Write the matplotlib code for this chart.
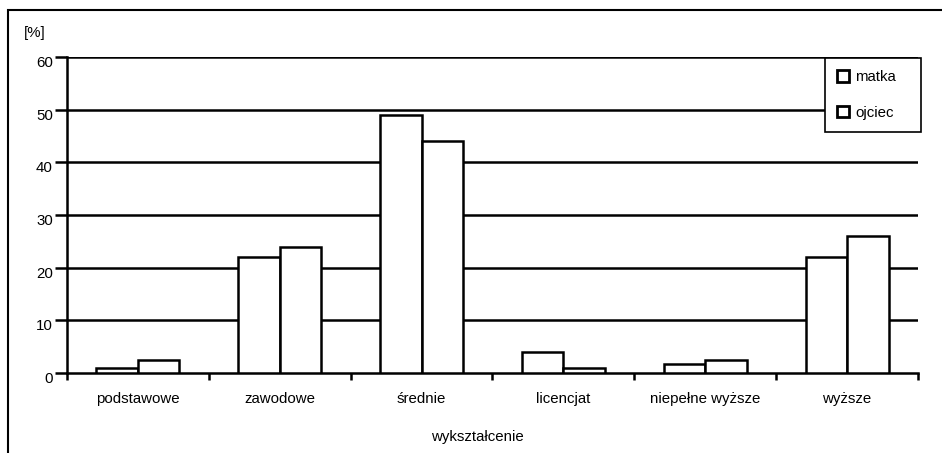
import matplotlib
matplotlib.use("Agg")
import matplotlib.pyplot as plt
import matplotlib.transforms as mtransforms
import numpy as np
from matplotlib.patches import Rectangle

plt.rcParams['font.family'] = ['Liberation Sans', 'DejaVu Sans']

categories = ["podstawowe", "zawodowe", "średnie", "licencjat", "niepełne wyższe", "wyższe"]
matka = [1, 22, 49, 4, 1.8, 22]
ojciec = [2.5, 24, 44, 1, 2.5, 26]
series_names = ["matka", "ojciec"]
y_ticks = [0, 10, 20, 30, 40, 50, 60]

W, H = 942, 453
fig = plt.figure(figsize=(W/100, H/100), dpi=100)
ax = fig.add_axes([67/W, 1 - 373/H, (918-67)/W, (373-57)/H])

x = np.arange(len(categories))
w = 0.293
ax.bar(x - w/2, matka, width=w, facecolor="white", edgecolor="black", linewidth=1.8, zorder=3, label=series_names[0])
ax.bar(x + w/2, ojciec, width=w, facecolor="white", edgecolor="black", linewidth=1.8, zorder=3, label=series_names[1])

ax.set_xlim(-0.5, len(categories) - 0.5)
ax.set_ylim(0, 60)
ax.set_yticks(y_ticks)
ax.set_yticklabels([])
for t in y_ticks[1:]:
    ax.axhline(t, color="black", linewidth=1.8, zorder=1)

# y labels sit a little below their ticks in the original
ytrans = mtransforms.blended_transform_factory(ax.transAxes, ax.transData) + \
    mtransforms.ScaledTranslation(-14/100, -6/100, fig.dpi_scale_trans)
for t in y_ticks:
    ax.text(0, t, str(t), transform=ytrans, ha="right", va="center", fontsize=10.8, clip_on=False)

ax.set_xticks(np.arange(len(categories) + 1) - 0.5)
ax.set_xticklabels([])
ax.set_xticks(x, minor=True)
ax.set_xticklabels(categories, minor=True, fontsize=10.8)
ax.tick_params(axis="x", which="minor", length=0, pad=14)
ax.tick_params(axis="x", which="major", length=5, width=1.8, direction="out")
ax.tick_params(axis="y", length=9, width=1.8, direction="out")

for s in ["top", "right"]:
    ax.spines[s].set_visible(False)
ax.spines["left"].set_linewidth(1.8)
ax.spines["bottom"].set_linewidth(1.8)

ax.set_xlabel("wykształcenie", fontsize=10.8, labelpad=17, x=(477 - 67) / (918 - 67))

fig.text(35/W, 1 - 33/H, "[%]", fontsize=10.8, ha="center", va="center")

# legend box: x 825..921, top at y=58 (pixels)
ax_w, ax_h = 918 - 67, 373 - 57
lx0 = (825 - 67) / ax_w
lw = (921 - 825) / ax_w
ltop = (373 - 58) / ax_h
leg = ax.legend(loc="upper left", bbox_to_anchor=(lx0, ltop - 0.3, lw, 0.3), mode="expand",
                borderaxespad=0, frameon=True, fancybox=False, edgecolor="black", framealpha=1,
                fontsize=10.8, handlelength=0.8, handleheight=0.8, handletextpad=0.4,
                labelspacing=1.43, borderpad=0.82)
leg.get_frame().set_linewidth(1.2)
leg.set_zorder(5)
for h in leg.legend_handles:
    h.set_linewidth(2)

# outer frame (cropped on the right and bottom)
fig.patches.append(Rectangle((8/W, -0.1), 1.1, 1 - 10/H + 0.1, transform=fig.transFigure,
                             fill=False, edgecolor="black", linewidth=1.5))

fig.savefig("out.png", dpi=100)
